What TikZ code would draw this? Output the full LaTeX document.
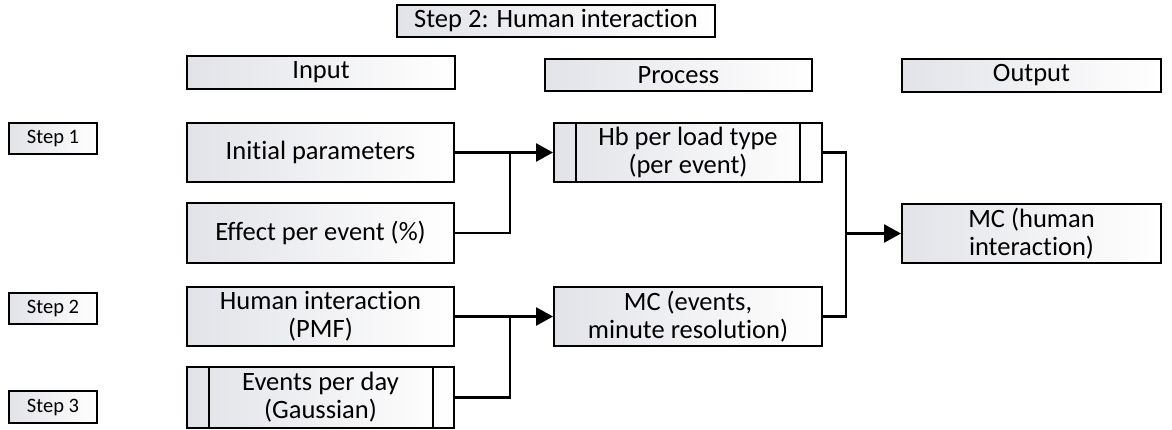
\documentclass[tikz,border=0pt]{standalone}
\usepackage{fontspec}
\setmainfont{Carlito}[Ligatures=NoCommon]
\usetikzlibrary{arrows.meta}
\definecolor{boxgray}{RGB}{226,227,232}
\tikzset{
  x=1pt, y=-1pt,
  box/.style={draw, line width=2pt, left color=boxgray, right color=white,
    inner sep=0pt, align=center, font=\fontsize{26.5}{28}\selectfont},
  stepbox/.style={box, font=\fontsize{20.5}{24}\selectfont},
  conn/.style={line width=2.6pt},
  arr/.style={conn, -{Triangle[length=17pt,width=18pt]}},
  inner/.style={line width=1.8pt}
}
\begin{document}
\begin{tikzpicture}
\useasboundingbox (0,0) rectangle (1172,430);
% headers
\node[box, minimum width=318pt, minimum height=32pt] (title) at (556,21) {Step 2: Human interaction};
\node[box, minimum width=268pt, minimum height=33pt] (inh) at (321,72.5) {Input};
\node[box, minimum width=267pt, minimum height=32pt] (prh) at (678.5,75) {Process};
\node[box, minimum width=259pt, minimum height=33pt] (ouh) at (1031.5,75.5) {Output};
% steps
\node[stepbox, minimum width=88pt, minimum height=31pt] (s1) at (53,138.5) {Step 1};
\node[stepbox, minimum width=88pt, minimum height=31pt] (s2) at (53,308.5) {Step 2};
\node[stepbox, minimum width=88pt, minimum height=32pt] (s3) at (53,407) {Step 3};
% inputs
\node[box, minimum width=267pt, minimum height=59pt] (init) at (320.5,152.5) {Initial parameters};
\node[box, minimum width=267pt, minimum height=60pt] (eff) at (320.5,233) {Effect per event (\%)};
\node[box, minimum width=267pt, minimum height=59pt] (pmf) at (320.5,316.5) {Human interaction\\(PMF)};
\node[box, minimum width=267pt, minimum height=61pt] (epd) at (320.5,397.5) {Events per day\\(Gaussian)};
\draw[inner] ([xshift=23pt]epd.north west) -- ([xshift=23pt]epd.south west);
\draw[inner] ([xshift=-22pt]epd.north east) -- ([xshift=-22pt]epd.south east);
% process
\node[box, minimum width=268pt, minimum height=59pt] (hb) at (688,152.5) {Hb per load type\\(per event)};
\draw[inner] ([xshift=23pt]hb.north west) -- ([xshift=23pt]hb.south west);
\draw[inner] ([xshift=-23pt]hb.north east) -- ([xshift=-23pt]hb.south east);
\node[box, minimum width=268pt, minimum height=59pt] (mcev) at (688,316.5) {MC (events,\\minute resolution)};
% output
\node[box, minimum width=259pt, minimum height=59pt] (mch) at (1031.5,233.5) {MC (human\\interaction)};
% junctions
\coordinate (j1) at (510,152.5);
\coordinate (j2) at (510,316.5);
\coordinate (j3) at (846,233.5);
% connectors
\draw[arr] (init) -- (hb);
\draw[conn] (eff.east) -| (j1);
\draw[arr] (pmf) -- (mcev);
\draw[conn] (epd.east) -| (j2);
\draw[conn] (hb.east) -| (j3) |- (mcev.east);
\draw[arr] (j3) -- (mch);
\end{tikzpicture}
\end{document}
